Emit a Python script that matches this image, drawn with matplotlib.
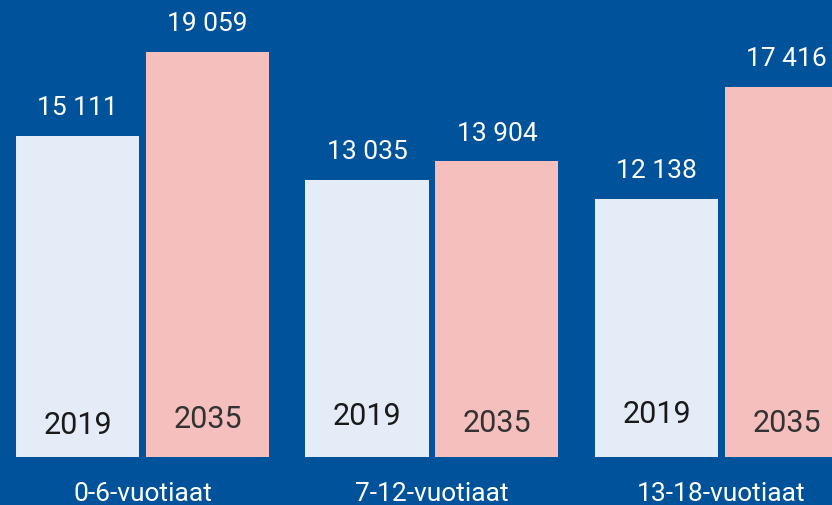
import numpy as np
import matplotlib
matplotlib.use("Agg")
import matplotlib.pyplot as plt

# data
groups = ["0-6-vuotiaat", "7-12-vuotiaat", "13-18-vuotiaat"]
years = ["2019", "2035"]
values_2019 = [15111, 13035, 12138]
values_2035 = [19059, 13904, 17416]

bg = "#00529B"
col_2019 = "#E4ECF8"
col_2035 = "#F4BFBD"

plt.rcParams['font.family'] = ['Roboto', 'DejaVu Sans']

fig = plt.figure(figsize=(8.32, 5.06), dpi=100, facecolor=bg)
ax = fig.add_axes([0, 48 / 506, 1, 458 / 506])
ax.set_facecolor(bg)

x = np.arange(len(groups))
w = 0.4249
off = 0.2245

b1 = ax.bar(x - off, values_2019, w, color=col_2019)
b2 = ax.bar(x + off, values_2035, w, color=col_2035)

def fmt(v):
    return f"{v:,}".replace(",", " ")

for bars in (b1, b2):
    for r in bars:
        ax.annotate(fmt(int(r.get_height())),
                    (r.get_x() + r.get_width() / 2, r.get_height()),
                    xytext=(0, 12), textcoords="offset points",
                    ha="center", va="bottom", color="white", fontsize=19)

# year labels inside bars, slightly uneven like the original
year_y_2019 = [32, 41, 43]
year_y_2035 = [38, 34, 34]
for i in range(len(groups)):
    ax.annotate(years[0], (x[i] - off, 0), xytext=(0, year_y_2019[i]),
                textcoords="offset pixels", ha="center", va="center",
                color="#1a1a1a", fontsize=22)
    ax.annotate(years[1], (x[i] + off, 0), xytext=(0, year_y_2035[i]),
                textcoords="offset pixels", ha="center", va="center",
                color="#333333", fontsize=22)

ax.set_xlim(-0.4922, 2.3817)
ax.set_ylim(0, 21550)
for s in ax.spines.values():
    s.set_visible(False)
ax.set_yticks([])
ax.set_xticks(x)
ax.set_xticklabels(groups, color="white", fontsize=19)
ax.tick_params(axis="x", length=0, pad=17)

fig.savefig("out.png", dpi=100, facecolor=bg)
